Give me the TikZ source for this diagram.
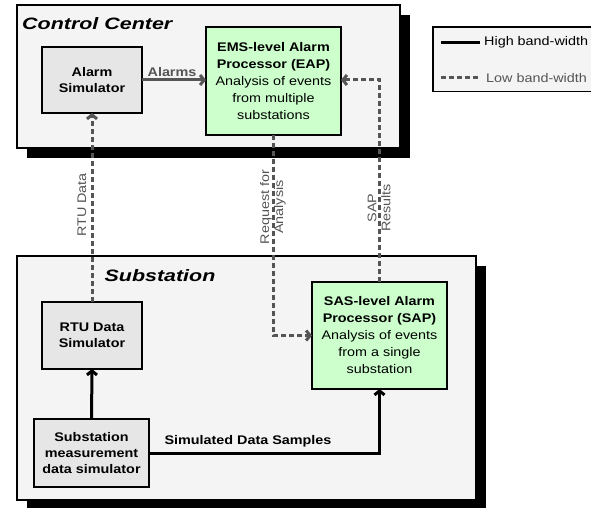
\documentclass[tikz,border=0pt]{standalone}
\usepackage{fontspec}
\setmainfont[FakeStretch=1.15]{Liberation Sans}
\newfontfamily\titlefont[FakeStretch=1.3]{Liberation Sans}
\usetikzlibrary{arrows.meta,shadows}
\definecolor{panelfill}{HTML}{F4F4F4}
\definecolor{simfill}{HTML}{E6E6E6}
\definecolor{procfill}{HTML}{CCFFCC}
\definecolor{linkgray}{HTML}{555555}
\tikzset{
  panel/.style={draw, line width=1.5pt, fill=panelfill, inner sep=0pt, outer sep=0pt,
    drop shadow={shadow xshift=10pt, shadow yshift=-10pt, fill=black, opacity=1}},
  boxtext/.style={font=\fontsize{12.5}{17}\selectfont, align=center, inner sep=0pt, outer sep=0pt},
  simbox/.style={boxtext, draw, line width=1.5pt, fill=simfill, font=\fontsize{12.5}{16}\selectfont\bfseries},
  procbox/.style={boxtext, draw, line width=1.5pt, fill=procfill},
  paneltitle/.style={font=\titlefont\fontsize{16.5}{19}\selectfont\bfseries\itshape, inner sep=0pt},
  tip/.style={-{Straight Barb[length=4pt,width=10pt]}},
  hiband/.style={line width=3pt, black, line cap=butt},
  loband/.style={line width=3pt, linkgray, dash pattern=on 5pt off 3pt},
  linklabel/.style={font=\fontsize{12.5}{14}\selectfont, text=linkgray, align=center, inner sep=0pt},
  legendtext/.style={font=\fontsize{12.5}{14}\selectfont, anchor=west, inner sep=0pt},
}
\begin{document}
\begin{tikzpicture}[x=1pt,y=-1pt]
\useasboundingbox (0,0) rectangle (591,508);

% the two site panels
\node[panel, minimum width=383pt, minimum height=143pt] (cc) at (208.5,76.5) {};
\node[paneltitle, anchor=west] (cctitle) at (22,24) {Control Center};
\node[panel, minimum width=459pt, minimum height=244pt] (ss) at (246.5,378) {};
\node[paneltitle] (sstitle) at (160,276) {Substation};

% control center blocks
\node[simbox, minimum width=100pt, minimum height=66pt] (alarm) at (92,80) {Alarm\\Simulator};
\node[procbox, minimum width=135pt, minimum height=108pt] (eap) at (273.5,81)
  {\textbf{EMS-level Alarm}\\\textbf{Processor (EAP)}\\Analysis of events\\from multiple\\substations};

% substation blocks
\node[simbox, minimum width=100pt, minimum height=67pt] (rtu) at (92,335.5) {RTU Data\\Simulator};
\node[simbox, minimum width=115pt, minimum height=68pt] (meas) at (91.5,453)
  {Substation\\measurement\\data simulator};
\node[procbox, minimum width=135pt, minimum height=107pt] (sap) at (379.5,335.5)
  {\textbf{SAS-level Alarm}\\\textbf{Processor (SAP)}\\Analysis of events\\from a single\\substation};

% legend
\draw[line width=1.5pt, fill=panelfill] (433,27) rectangle (594,91.5);
\coordinate (hiA) at (441,42.5);
\coordinate (hiB) at (480,42.5);
\coordinate (loA) at (441,78);
\coordinate (loB) at (480,78);
\draw[hiband] (hiA) -- (hiB);
\draw[loband] (loA) -- (loB);
\node[legendtext] (hitext) at (484,42.5) {High band-width};
\node[legendtext, text=linkgray] (lotext) at (486,78) {Low band-width};

% links
\draw[line width=3pt, linkgray, tip] (alarm.east) -- (eap.west |- alarm.east);
\node[font=\fontsize{12.5}{14}\selectfont\bfseries, text=linkgray, inner sep=0pt] (alarmslbl) at (172,72) {Alarms};

\draw[loband, tip] (rtu.north) -- (alarm.south);
\node[linklabel, rotate=90] (rtulbl) at (82,205) {RTU Data};

\coordinate (reqbend) at (eap.south |- sap.west);
\draw[loband, tip] (eap.south) -- (reqbend) -- (sap.west);
\node[linklabel, rotate=90] (reqlbl) at (273,207) {Request for\\Analysis};

\coordinate (sapbend) at (sap.north |- 0,80);
\draw[loband, tip] (sap.north) -- (sapbend) -- (eap.east |- sapbend);
\node[linklabel, rotate=90] (saplbl) at (379,208) {SAP\\Results};

\draw[hiband, tip] (meas.north) -- (rtu.south);
\coordinate (simbend) at (sap.south |- meas.east);
\draw[hiband, tip] (meas.east) -- (simbend) -- (sap.south);
\node[font=\fontsize{12.5}{14}\selectfont\bfseries, inner sep=0pt] (simlbl) at (248,441) {Simulated Data Samples};
\end{tikzpicture}
\end{document}
